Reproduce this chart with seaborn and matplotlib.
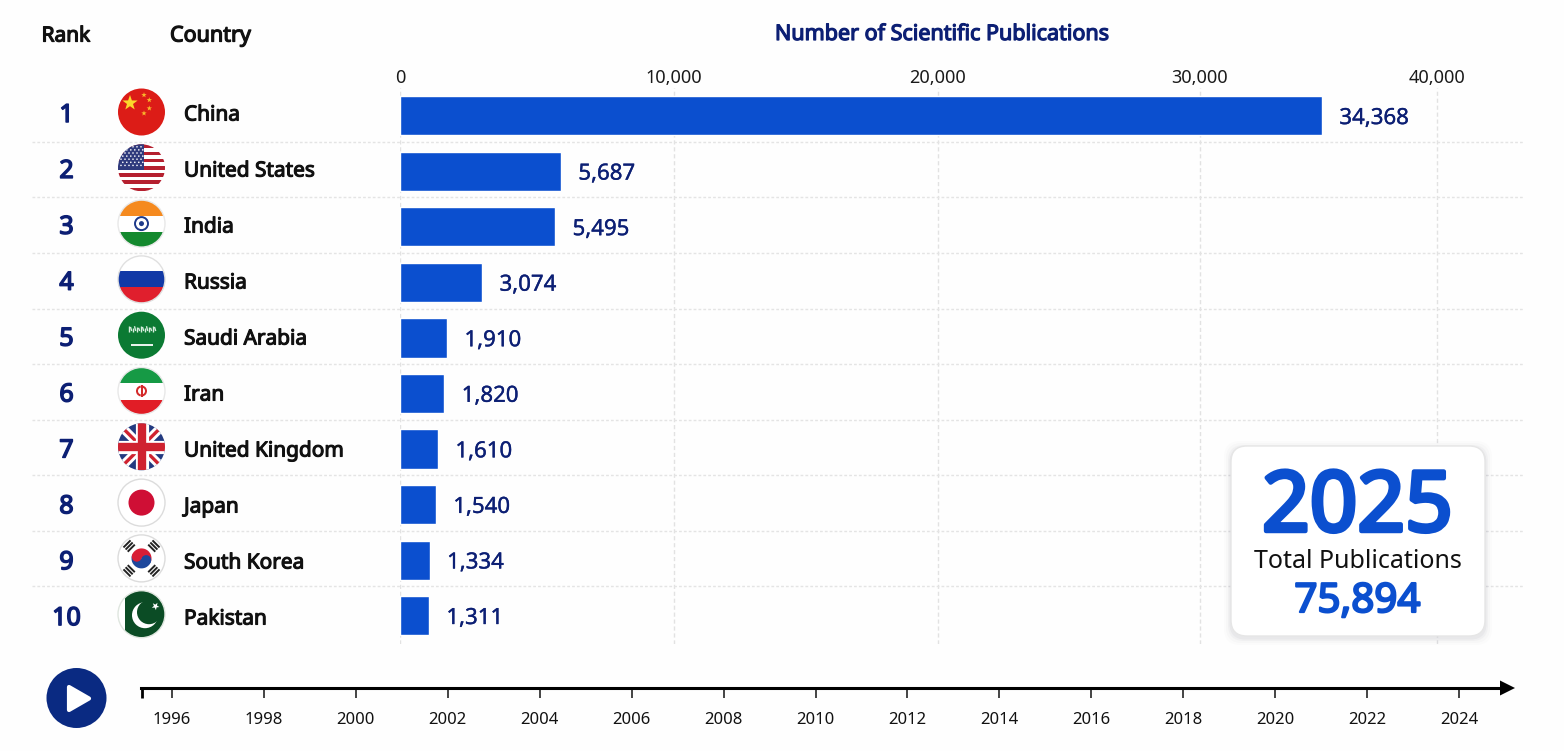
import numpy as np
import pandas as pd
import matplotlib
matplotlib.use("Agg")
import matplotlib.pyplot as plt
import seaborn as sns
from matplotlib.patches import Circle, Rectangle, Polygon, FancyBboxPatch, Wedge
from matplotlib import patheffects as pe

ranks = [1, 2, 3, 4, 5, 6, 7, 8, 9, 10]
countries = ["China", "United States", "India", "Russia", "Saudi Arabia", "Iran",
             "United Kingdom", "Japan", "South Korea", "Pakistan"]
publications = [34368, 5687, 5495, 3074, 1910, 1820, 1610, 1540, 1334, 1311]
x_ticks = [0, 10000, 20000, 30000, 40000]
years = list(range(1996, 2025, 2))
current_year = "2025"
total_publications = 75894

W, H = 1564, 751
BLUE = "#0b4fcf"
NAVY = "#0c1f74"
sns.set_theme(style="white")
plt.rcParams["font.family"] = ["Noto Sans", "DejaVu Sans"]

fig = plt.figure(figsize=(W / 100, H / 100), dpi=100, facecolor="#fefefe")


def px_axes(l, t, r, b, **kw):
    return fig.add_axes([l / W, 1 - b / H, (r - l) / W, (b - t) / H], **kw)


def heavy(color, w):
    # Noto Sans is installed in one weight: thicken the strokes to get the bold look
    return [pe.withStroke(linewidth=w, foreground=color)]


# ------- bars -------
ax = px_axes(400, 88, 1524, 643.5)
ax.set_facecolor("none")
df = pd.DataFrame({"country": countries, "publications": publications})
sns.barplot(data=df, y="country", x="publications", order=countries, color=BLUE,
            saturation=1, width=0.705, ax=ax, zorder=3)

# the reference's axis is uneven: follow its tick and bar positions
scale_vals = np.array([0, 1311, 5687, 10000, 20000, 30000, 34368, 40000, 43700], float)
scale_pos = np.array([0, 29, 161, 274, 538, 800, 922, 1037, 1124], float)
ax.set_xscale("function", functions=(lambda v: np.interp(v, scale_vals, scale_pos),
                                     lambda p: np.interp(p, scale_pos, scale_vals)))
ax.set_xlim(0, 43700)
ax.set_ylim(9.5, -0.5)
ax.set_xticks(x_ticks)
ax.set_xticklabels([f"{v:,}" for v in x_ticks])
ax.xaxis.set_minor_locator(matplotlib.ticker.NullLocator())
ax.xaxis.tick_top()
ax.tick_params(axis="x", length=0, pad=0.5, labelsize=13, labelcolor="#1a1a1a")
ax.set_yticks([])
ax.set_xlabel("")
ax.set_ylabel("")
for s in ax.spines.values():
    s.set_visible(False)
ax.grid(axis="x", color="#e2e2e2", ls=(0, (3, 2)), lw=1)
ax.set_axisbelow(True)
for i in range(9):
    ax.plot([-368 / 1124, 1], [i + 0.47] * 2, transform=ax.get_yaxis_transform(),
            color="#e4e4e4", ls=(0, (2, 1.5)), lw=1, clip_on=False, zorder=1)
for i, v in enumerate(publications):
    ax.annotate(f"{v:,}", xy=(v, i), xytext=(12.5, -2), textcoords="offset points",
                va="center", ha="left", fontsize=16, color=NAVY, zorder=4,
                path_effects=heavy(NAVY, 0.25))

# ------- pixel overlay -------
ov = px_axes(0, 0, W, H, zorder=5)
ov.set_xlim(0, W)
ov.set_ylim(H, 0)
ov.axis("off")
ov.patch.set_alpha(0)

ov.text(66, 36, "Rank", ha="center", va="center", fontsize=15, color="#111",
        path_effects=heavy("#111", 0.9))
ov.text(210.5, 36, "Country", ha="center", va="center", fontsize=15.5, color="#111",
        path_effects=heavy("#111", 0.9))
ov.text(942, 34.5, "Number of Scientific Publications", ha="center", va="center",
        fontsize=15.5, color=NAVY, path_effects=heavy(NAVY, 0.9))


def star(cx, cy, r, rot=-90):
    a = np.deg2rad(rot + np.arange(10) * 36)
    rad = np.where(np.arange(10) % 2 == 0, r, r * 0.4)
    return np.c_[cx + rad * np.cos(a), cy + rad * np.sin(a)]


R = 23.5


def make_flag(cx, cy, base, edge=None):
    clip = Circle((cx, cy), R, fc=base, ec="none", zorder=6)
    ov.add_patch(clip)

    def add(p):
        p.set_zorder(7)
        ov.add_patch(p)
        p.set_clip_path(clip)
        return p

    def band(y0, y1, color, x0=-R, x1=R):
        add(Rectangle((cx + x0, cy + y0), x1 - x0, y1 - y0, fc=color, ec="none"))

    def seg(x0, y0, x1, y1, color, lw):
        l, = ov.plot([cx + x0, cx + x1], [cy + y0, cy + y1], color=color, lw=lw, zorder=8,
                     solid_capstyle="butt")
        l.set_clip_path(clip)

    if edge:
        ov.add_patch(Circle((cx, cy), R, fc="none", ec=edge, lw=1, zorder=9))
    return add, band, seg


FX = 141.5
fy = [112 + 55.8 * i for i in range(10)]

# China
add, band, seg = make_flag(FX, fy[0], "#dc1c17")
add(Polygon(star(FX - 11.5, fy[0] - 9, 8), fc="#fbd82b", ec="none"))
for dx, dy in [(2.5, -17), (7.8, -12), (7.8, -3.7), (2.5, 1.3)]:
    add(Polygon(star(FX + dx, fy[0] + dy, 2.8), fc="#f9b92b", ec="none"))

# United States
add, band, seg = make_flag(FX, fy[1], "#ffffff")
h = 2 * R / 13
for k in range(0, 13, 2):
    band(-R + k * h, -R + (k + 1) * h, "#b5202f")
band(-R, -R + 7 * h, "#2f3a7d", x1=2)
for a in range(6):
    for b in range(7):
        add(Circle((FX - R + 3 + a * 4 + (b % 2) * 1.8, fy[1] - R + 2.5 + b * 3.1), 0.8, fc="white", ec="none"))

# India
add, band, seg = make_flag(FX, fy[2], "#ffffff", edge="#e8e8e8")
band(-R, -8, "#f58a1f")
band(8, R, "#14892e")
add(Circle((FX, fy[2]), 6.5, fc="white", ec="#1e3a8a", lw=1.4))
add(Circle((FX, fy[2]), 2.5, fc="#1e3a8a", ec="none"))

# Russia
add, band, seg = make_flag(FX, fy[3], "#ffffff", edge="#e0e0e0")
band(-8, 8, "#1239a6")
band(8, R, "#e01f2d")

# Saudi Arabia
add, band, seg = make_flag(FX, fy[4], "#0b7a33")
for k, dx in enumerate(np.linspace(-13, 13, 14)):
    seg(dx, -9 + (k % 3) * 0.8, dx + (k % 2) * 1.2, -3 - (k % 2) * 1.2, "#d8efdf", 1.0)
seg(-11, 10, 11, 10, "white", 1.3)

# Iran
add, band, seg = make_flag(FX, fy[5], "#ffffff", edge="#e8e8e8")
band(-R, -8, "#169a45")
band(9, R, "#e11d26")
add(Wedge((FX, fy[5]), 5.5, 100, 260, width=2, fc="#d42a2a", ec="none"))
add(Wedge((FX, fy[5]), 5.5, -80, 80, width=2, fc="#d42a2a", ec="none"))
band(-6, 6, "#d42a2a", x0=-1, x1=1)

# United Kingdom
add, band, seg = make_flag(FX, fy[6], "#233a80")
seg(-R, -R, R, R, "white", 6.5)
seg(-R, R, R, -R, "white", 6.5)
seg(-R, -R, R, R, "#cf2230", 2.4)
seg(-R, R, R, -R, "#cf2230", 2.4)
seg(0, -R, 0, R, "white", 9.5)
seg(-R, 0, R, 0, "white", 9.5)
seg(0, -R, 0, R, "#cf2230", 6)
seg(-R, 0, R, 0, "#cf2230", 6)

# Japan
add, band, seg = make_flag(FX, fy[7], "#ffffff", edge="#dcdcdc")
add(Circle((FX, fy[7]), 13, fc="#cf0f35", ec="none"))

# South Korea
add, band, seg = make_flag(FX, fy[8], "#ffffff", edge="#dcdcdc")
add(Wedge((FX, fy[8]), 10, 200, 20, fc="#d81e36", ec="none"))
add(Wedge((FX, fy[8]), 10, 20, 200, fc="#1d479c", ec="none"))
d = np.deg2rad(20)
add(Circle((FX + 5 * np.cos(d), fy[8] + 5 * np.sin(d)), 5, fc="#1d479c", ec="none"))
add(Circle((FX - 5 * np.cos(d), fy[8] - 5 * np.sin(d)), 5, fc="#d81e36", ec="none"))
for ang in [45, 135, 225, 315]:
    a = np.deg2rad(ang)
    ux, uy = np.cos(a), np.sin(a)
    vx, vy = -uy, ux
    for rr in [14.5, 17.5, 20.5]:
        seg(ux * rr - vx * 5, uy * rr - vy * 5, ux * rr + vx * 5, uy * rr + vy * 5, "#222", 1.4)

# Pakistan
add, band, seg = make_flag(FX, fy[9], "#ffffff", edge="#dfe6df")
band(-R, R, "#0b4c25", x0=-R + 7, x1=R)
add(Circle((FX + 3.5, fy[9] + 1), 13, fc="white", ec="none"))
add(Circle((FX + 7.5, fy[9] - 2), 12, fc="#0b4c25", ec="none"))
add(Polygon(star(FX + 14, fy[9] - 8, 4, rot=-60), fc="white", ec="none"))

for i, (r, c) in enumerate(zip(ranks, countries)):
    ov.text(66.5, 115.5 + 55.9 * i, str(r), ha="center", va="center", fontsize=18, color=NAVY,
            zorder=6, path_effects=heavy(NAVY, 1.1))
    ov.text(184, 115 + 56 * i, c, ha="left", va="center", fontsize=15, color="#111",
            zorder=6, path_effects=heavy("#111", 0.8))

# ------- summary card -------
for k, alpha in zip([7, 5, 3, 1.5], [0.012, 0.02, 0.03, 0.04]):
    ov.add_patch(FancyBboxPatch((1247 - k, 462 - k + 2), 222 + 2 * k, 158 + 2 * k,
                                boxstyle="round,pad=16,rounding_size=16",
                                fc="#303050", alpha=alpha, ec="none", zorder=6))
ov.add_patch(FancyBboxPatch((1247, 462), 222, 158, boxstyle="round,pad=16,rounding_size=16",
                            fc="white", ec="#e6e6e6", lw=1, zorder=7))
ov.text(1357.5, 509, current_year, ha="center", va="center", fontsize=60, color=BLUE, zorder=8,
        path_effects=heavy(BLUE, 3.2))
ov.text(1358, 562, "Total Publications", ha="center", va="center", fontsize=18,
        color="#111", zorder=8)
ov.text(1357.5, 602, f"{total_publications:,}", ha="center", va="center", fontsize=29,
        color=BLUE, zorder=8, path_effects=heavy(BLUE, 1.6))

# ------- play button -------
ov.add_patch(Circle((76.5, 698), 30, fc="#0a2a82", ec="none", zorder=6))
ov.add_patch(Polygon([[69, 687], [69, 710], [89, 698.5]], fc="white", ec="white", lw=3,
                     joinstyle="round", zorder=7))

# ------- timeline -------
tl = px_axes(141, 688, 1503, 700, zorder=4)
px_per_year = (1459 - 172) / 28
tl.set_xlim(1996 - (172 - 141) / px_per_year, 1996 + (1503 - 172) / px_per_year)
tl.set_ylim(0, 1)
tl.set_facecolor("none")
for n, s in tl.spines.items():
    s.set_visible(n == "top")
tl.spines["top"].set_color("black")
tl.spines["top"].set_linewidth(2.2)
tl.set_yticks([])
tl.set_xticks(years)
tl.set_xticklabels([str(y) for y in years])
tl.tick_params(axis="x", direction="in", top=True, bottom=False, length=7, width=1.1,
               color="#111", labelsize=12, labelcolor="#111", pad=9)
tl.tick_params(axis="x", labelbottom=True)
ov.plot([142, 142], [687, 698], color="black", lw=2, zorder=6, solid_capstyle="butt")
ov.add_patch(Polygon([[1500, 680.5], [1515, 688], [1500, 695.5]], fc="black", ec="none", zorder=6))

fig.savefig("out.png", dpi=100, facecolor=fig.get_facecolor())
